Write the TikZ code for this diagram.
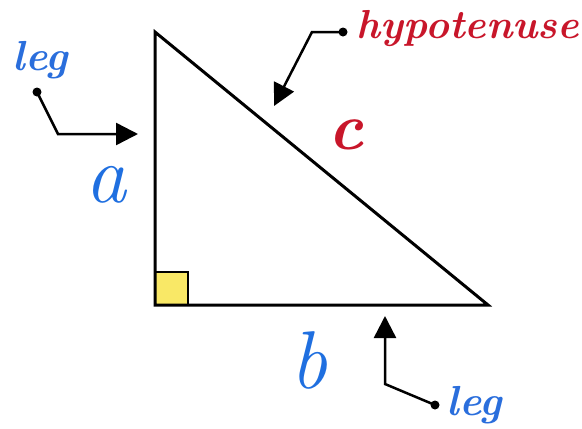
\documentclass[tikz,border=0pt]{standalone}
\usepackage{fontspec}
\usepackage{tikz}
\usetikzlibrary{arrows.meta}
\definecolor{LegBlue}{HTML}{2A6EDC}
\definecolor{SideBlue}{HTML}{1F6FE0}
\definecolor{HypRed}{HTML}{C8162A}
\definecolor{AngleYellow}{HTML}{F9E866}

\begin{document}
\begin{tikzpicture}[
  x=1pt, y=-1pt,
  % ── triangle sides ───────────────────────────────────────────────────────
  side/.style={draw=black, line width=3pt, line join=miter},
  % ── right-angle marker ───────────────────────────────────────────────────
  rmark/.style={draw=black, line width=1.5pt, fill=AngleYellow},
  % ── pointer labels ───────────────────────────────────────────────────────
  legtxt/.style={text=LegBlue, font=\fontsize{42}{44}\selectfont\bfseries\itshape, inner sep=0pt},
  hyptxt/.style={text=HypRed, font=\fontsize{40.5}{44}\selectfont\bfseries\itshape, inner sep=0pt},
  % ── side letters ─────────────────────────────────────────────────────────
  letter/.style={text=SideBlue, font=\fontsize{82}{82}\selectfont\itshape, inner sep=0pt},
  % ── dots and arrows ──────────────────────────────────────────────────────
  dot/.style={circle, fill=black, inner sep=0pt, minimum size=9pt},
  arr/.style={-{Triangle[length=22pt, width=22pt]}, draw=black, line width=2.5pt},
]
\useasboundingbox (0,0) rectangle (582,429);

%% ── Vertices ──
\coordinate (T) at (155,32);
\coordinate (R) at (155,305);
\coordinate (E) at (488,305);

%% ── Right-angle box and triangle ──
\draw[rmark] (R) rectangle ++(33,-33);
\draw[side] (T) -- (R) -- (E) -- cycle;

%% ── Side letters ──
\node[letter] (a) at (106,185) {a};
\node[letter] (b) at (309,360) {b};
\node[letter, text=HypRed, font=\fontsize{66}{66}\selectfont\bfseries\itshape] (c) at (346,135) {c};

%% ── Labels with dots ──
\node[legtxt] (legA) at (40,60) {leg};
\node[hyptxt] (hyp)  at (468,29) {hypotenuse};
\node[legtxt] (legB) at (474,405) {leg};

\node[dot] (dA) at (37,92) {};
\node[dot] (dH) at (343,32) {};
\node[dot] (dB) at (435,405) {};

%% ── Bend points and arrow tips ──
\coordinate (kA) at (58,134);
\coordinate (tA) at (138,134);
\coordinate (kH) at (312,32);
\coordinate (tH) at (274,106);
\coordinate (kB) at (385,384);
\coordinate (tB) at (385,316);

%% ── Pointers ──
\draw[arr] (dA.center) -- (kA) -- (tA);
\draw[arr] (dH.center) -- (kH) -- (tH);
\draw[arr] (dB.center) -- (kB) -- (tB);

\end{tikzpicture}
\end{document}
